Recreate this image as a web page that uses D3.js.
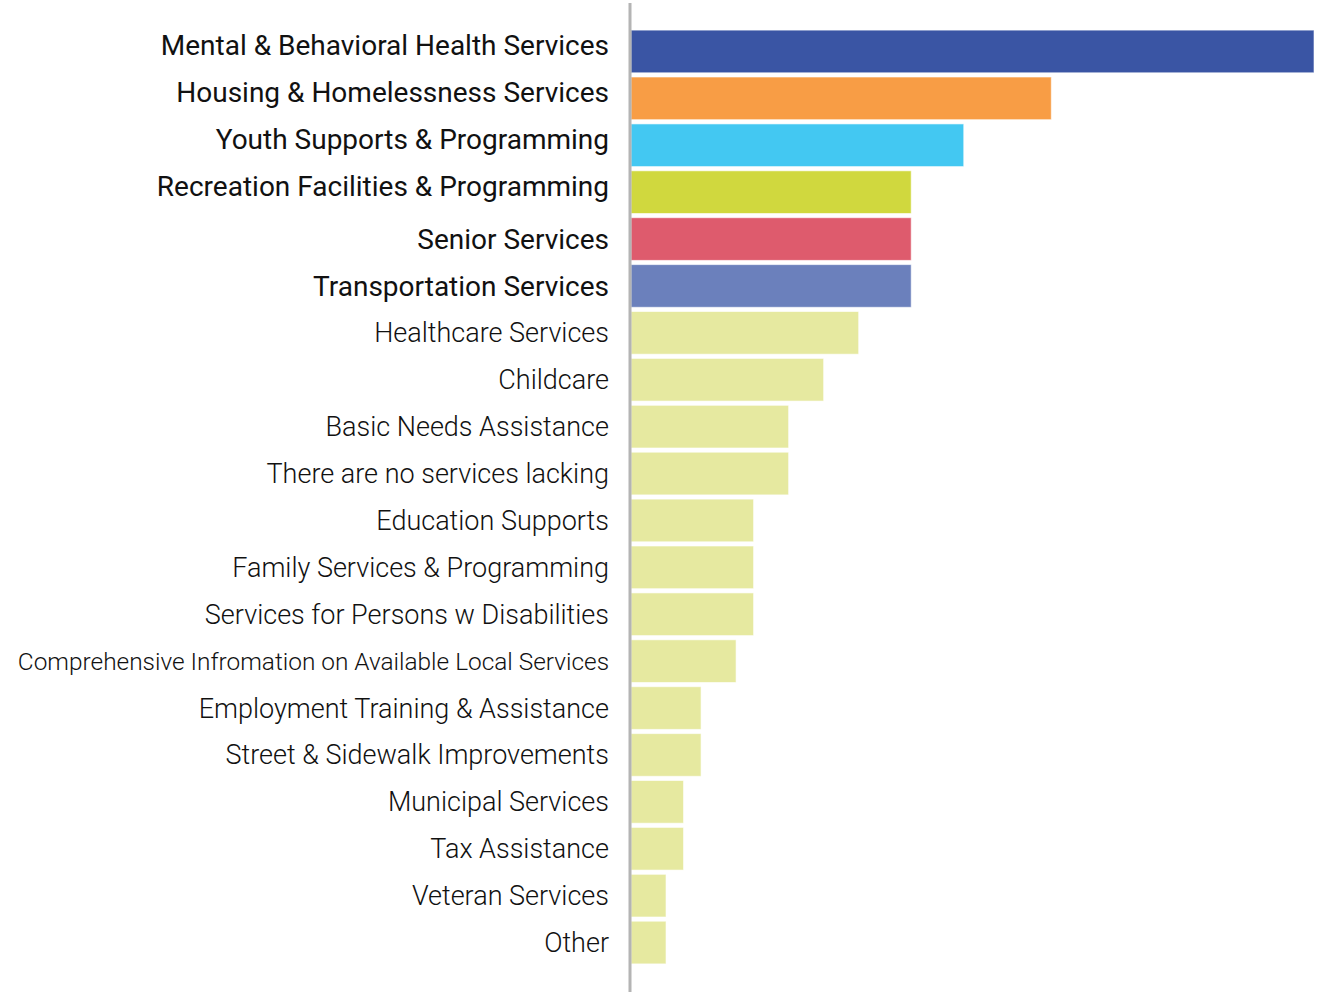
<!DOCTYPE html>
<html>
<head>
<meta charset="utf-8">
<script src="https://cdn.jsdelivr.net/npm/d3@7"></script>
<style>
  body { margin: 0; background: #fff; }
  #chart text { font-family: Roboto, "Noto Sans", sans-serif; fill: #111; }
</style>
</head>
<body>
<div id="chart"></div>
<script>
// survey responses: services lacking in the community
var categories = [
    "Mental & Behavioral Health Services",
    "Housing & Homelessness Services",
    "Youth Supports & Programming",
    "Recreation Facilities & Programming",
    "Senior Services",
    "Transportation Services",
    "Healthcare Services",
    "Childcare",
    "Basic Needs Assistance",
    "There are no services lacking",
    "Education Supports",
    "Family Services & Programming",
    "Services for Persons w Disabilities",
    "Comprehensive Infromation on Available Local Services",
    "Employment Training & Assistance",
    "Street & Sidewalk Improvements",
    "Municipal Services",
    "Tax Assistance",
    "Veteran Services",
    "Other"
];
var values = [39, 24, 19, 16, 16, 16, 13, 11, 9, 9, 7, 7, 7, 6, 4, 4, 3, 3, 2, 2];
var topColors = ["#3a55a4", "#f89d45", "#43c8f2", "#d0d83e", "#de5b6d", "#6b80bc"];
var restColor = "#e6e9a0";

var cfg = {
    w: 1322,
    h: 992,
    left: 631,
    right: 1314,
    top: 28,
    bottom: 966
};

var svg = d3.select("#chart")
    .append("svg")
    .attr("width", cfg.w)
    .attr("height", cfg.h);

var x = d3.scaleLinear()
    .domain([0, d3.max(values)])
    .range([cfg.left, cfg.right]);

var y = d3.scaleBand()
    .domain(categories)
    .range([cfg.top, cfg.bottom])
    .paddingInner(0.09)
    .paddingOuter(0.045);

var data = categories.map(function(c, i) {
    return { name: c, value: values[i], i: i };
});

svg.selectAll("rect.bar")
    .data(data)
    .enter()
    .append("rect")
    .attr("class", "bar")
    .attr("x", x(0))
    .attr("y", function(d) { return y(d.name); })
    .attr("width", function(d) { return x(d.value) - x(0); })
    .attr("height", y.bandwidth())
    .attr("fill", function(d) { return d.i < topColors.length ? topColors[d.i] : restColor; })
    .attr("stroke", "#ffffff")
    .attr("stroke-opacity", 0.6)
    .attr("stroke-width", 1);

// category labels, top 6 emphasised (first few sit a bit high in the original)
svg.selectAll("text.label")
    .data(data)
    .enter()
    .append("text")
    .attr("class", "label")
    .attr("x", cfg.left - 22)
    .attr("y", function(d) {
        var off = d.i < 4 ? -6 : 0;
        return y(d.name) + y.bandwidth() / 2 + off;
    })
    .attr("dy", "0.35em")
    .style("text-anchor", "end")
    .style("font-size", function(d) {
        if (d.i < topColors.length) return "28px";
        return d.i === 13 ? "24.4px" : "27px";
    })
    .style("font-weight", function(d) { return d.i < topColors.length ? 400 : 300; })
    .text(function(d) { return d.name; });

// vertical axis line
svg.append("line")
    .attr("x1", cfg.left - 1)
    .attr("x2", cfg.left - 1)
    .attr("y1", 3)
    .attr("y2", cfg.h)
    .attr("stroke", "#b4b4b4")
    .attr("stroke-width", 3);
</script>
</body>
</html>
